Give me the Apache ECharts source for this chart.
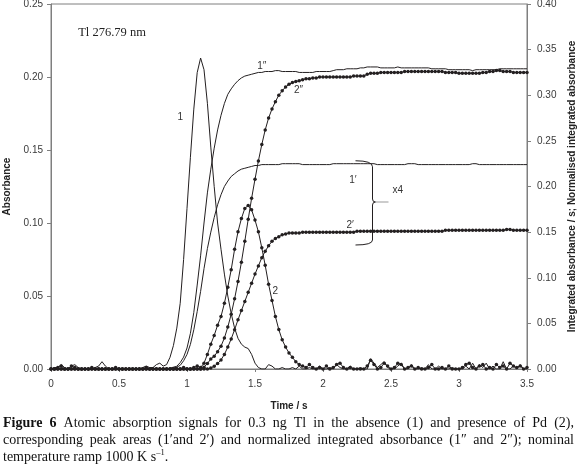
<!DOCTYPE html>
<html><head><meta charset="utf-8">
<script src="https://cdn.jsdelivr.net/npm/echarts@6/dist/echarts.min.js"></script>
<style>html,body{margin:0;padding:0;background:#fff}#c{width:580px;height:476px}</style>
</head><body><div id="c"></div>
<script>
// sample times (s)
const timeS = [
0,0.025,0.05,0.075,0.1,0.125,0.15,0.175,0.2,0.225,
0.25,0.275,0.3,0.325,0.35,0.375,0.4,0.425,0.45,0.475,
0.5,0.525,0.55,0.575,0.6,0.625,0.65,0.675,0.7,0.725,
0.75,0.775,0.8,0.825,0.85,0.875,0.9,0.925,0.95,0.975,
1,1.025,1.05,1.075,1.1,1.125,1.15,1.175,1.2,1.225,
1.25,1.275,1.3,1.325,1.35,1.375,1.4,1.425,1.45,1.475,
1.5,1.525,1.55,1.575,1.6,1.625,1.65,1.675,1.7,1.725,
1.75,1.775,1.8,1.825,1.85,1.875,1.9,1.925,1.95,1.975,
2,2.025,2.05,2.075,2.1,2.125,2.15,2.175,2.2,2.225,
2.25,2.275,2.3,2.325,2.35,2.375,2.4,2.425,2.45,2.475,
2.5,2.525,2.55,2.575,2.6,2.625,2.65,2.675,2.7,2.725,
2.75,2.775,2.8,2.825,2.85,2.875,2.9,2.925,2.95,2.975,
3,3.025,3.05,3.075,3.1,3.125,3.15,3.175,3.2,3.225,
3.25,3.275,3.3,3.325,3.35,3.375,3.4,3.425,3.45,3.475,
3.5];

// (1) absorbance, no Pd  (left axis)
const absNoPd = [
0.000,0.001,0.001,0.003,0.001,0.000,0.002,0.003,0.001,0.000,
0.000,0.000,0.000,0.001,0.002,0.005,0.002,0.000,0.000,0.000,
0.000,0.000,0.000,0.000,0.000,0.000,0.000,0.001,0.002,0.001,
0.001,0.003,0.004,0.002,0.003,0.008,0.016,0.028,0.045,0.075,
0.110,0.145,0.178,0.203,0.213,0.205,0.182,0.152,0.125,0.100,
0.082,0.065,0.050,0.038,0.028,0.021,0.017,0.015,0.014,0.010,
0.004,0.001,0.000,0.000,0.003,0.002,0.000,0.000,0.001,0.000,
0.000,0.001,0.000,0.002,0.000,0.000,0.001,0.000,0.000,0.002,
0.000,0.000,0.001,0.000,0.003,0.001,0.000,0.000,0.002,0.000,
0.000,0.001,0.000,0.000,0.007,0.004,0.001,0.003,0.005,0.001,
0.000,0.000,0.002,0.004,0.000,0.000,0.003,0.000,0.000,0.001,
0.000,0.003,0.000,0.000,0.002,0.000,0.000,0.000,0.001,0.000,
0.000,0.000,0.002,0.000,0.004,0.000,0.003,0.001,0.004,0.000,
0.002,0.000,0.000,0.005,0.000,0.000,0.002,0.000,0.003,0.000,
0.000];

// (2) absorbance, with Pd (left axis)
const absPd = [
0.000,0.000,0.001,0.002,0.000,0.000,0.002,0.001,0.000,0.000,
0.000,0.000,0.001,0.000,0.000,0.000,0.000,0.000,0.000,0.001,
0.000,0.000,0.000,0.000,0.000,0.000,0.000,0.000,0.001,0.000,
0.000,0.000,0.000,0.000,0.000,0.000,0.000,0.000,0.000,0.001,
0.000,0.000,0.001,0.002,0.001,0.004,0.010,0.017,0.023,0.030,
0.036,0.045,0.056,0.068,0.082,0.094,0.103,0.110,0.112,0.109,
0.102,0.094,0.083,0.071,0.058,0.047,0.036,0.027,0.020,0.015,
0.011,0.008,0.005,0.003,0.002,0.001,0.003,0.001,0.000,0.001,
0.000,0.002,0.000,0.001,0.003,0.004,0.001,0.000,0.001,0.000,
0.000,0.000,0.000,0.002,0.006,0.003,0.000,0.001,0.004,0.002,
0.000,0.001,0.004,0.003,0.000,0.001,0.002,0.000,0.001,0.000,
0.000,0.001,0.003,0.000,0.000,0.001,0.000,0.002,0.000,0.000,
0.000,0.001,0.003,0.004,0.001,0.000,0.002,0.003,0.000,0.001,
0.000,0.003,0.001,0.002,0.000,0.004,0.002,0.001,0.002,0.000,
0.001];

// (1') integrated absorbance x4, no Pd (right axis)
const areaNoPd = [
0,0,0,0,0,0,0,0,0,0,
0,0,0,0,0,0,0,0,0,0,
0,0,0,0,0,0,0,0,0,0,
0,0,0,0,0,0,0.001,0.002,0.004,0.009,
0.016,0.027,0.043,0.063,0.085,0.110,0.132,0.150,0.166,0.180,
0.191,0.200,0.206,0.211,0.214,0.217,0.219,0.220,0.221,0.222,
0.223,0.223,0.224,0.224,0.224,0.224,0.224,0.224,0.225,0.225,
0.225,0.225,0.225,0.225,0.224,0.224,0.224,0.224,0.224,0.224,
0.224,0.224,0.224,0.225,0.225,0.225,0.225,0.225,0.225,0.225,
0.225,0.225,0.225,0.225,0.225,0.225,0.224,0.224,0.224,0.224,
0.224,0.224,0.224,0.224,0.224,0.225,0.225,0.225,0.224,0.224,
0.224,0.224,0.224,0.224,0.224,0.224,0.224,0.224,0.224,0.224,
0.224,0.224,0.224,0.224,0.225,0.225,0.224,0.224,0.224,0.224,
0.224,0.224,0.224,0.224,0.224,0.224,0.224,0.224,0.224,0.224,
0.224];

// (2') integrated absorbance x4, with Pd (right axis)
const areaPd = [
0,0,0,0,0,0,0,0,0,0,
0,0,0,0,0,0,0,0,0,0,
0,0,0,0,0,0,0,0,0,0,
0,0,0,0,0,0,0,0,0,0,
0.000,0.000,0.000,0.000,0.000,0.000,0.000,0.001,0.003,0.006,
0.010,0.016,0.024,0.033,0.043,0.054,0.064,0.074,0.084,0.094,
0.104,0.113,0.122,0.129,0.135,0.140,0.143,0.145,0.147,0.148,
0.149,0.149,0.149,0.149,0.150,0.150,0.150,0.150,0.150,0.150,
0.150,0.150,0.150,0.150,0.150,0.150,0.150,0.150,0.150,0.150,
0.151,0.151,0.151,0.151,0.151,0.151,0.151,0.151,0.151,0.151,
0.151,0.151,0.151,0.151,0.151,0.151,0.151,0.151,0.151,0.151,
0.151,0.151,0.151,0.151,0.151,0.151,0.152,0.152,0.152,0.152,
0.152,0.152,0.152,0.152,0.152,0.152,0.152,0.152,0.152,0.152,
0.152,0.152,0.152,0.152,0.153,0.153,0.152,0.152,0.152,0.152,
0.152];

// (1") normalised integrated absorbance, no Pd (right axis)
const normNoPd = [
0,0,0,0,0,0,0,0,0,0,
0,0,0,0,0,0,0,0,0,0,
0,0,0,0,0,0,0,0,0,0,
0,0,0,0,0,0.001,0.002,0.003,0.007,0.013,
0.023,0.039,0.062,0.092,0.124,0.160,0.193,0.219,0.242,0.262,
0.278,0.291,0.301,0.307,0.312,0.316,0.319,0.321,0.322,0.323,
0.324,0.325,0.325,0.326,0.326,0.326,0.327,0.327,0.326,0.326,
0.326,0.326,0.326,0.325,0.325,0.325,0.325,0.325,0.326,0.326,
0.326,0.326,0.326,0.327,0.328,0.328,0.328,0.329,0.329,0.329,
0.329,0.330,0.330,0.331,0.331,0.331,0.331,0.330,0.330,0.330,
0.330,0.330,0.331,0.330,0.330,0.330,0.330,0.330,0.330,0.330,
0.330,0.330,0.329,0.329,0.329,0.329,0.329,0.328,0.328,0.328,
0.328,0.328,0.328,0.328,0.327,0.328,0.328,0.328,0.328,0.328,
0.328,0.328,0.329,0.329,0.329,0.329,0.329,0.329,0.329,0.329,
0.329];

// (2") normalised integrated absorbance, with Pd (right axis)
const normPd = [
0,0,0,0,0,0,0,0,0,0,
0,0,0,0,0,0,0,0,0,0,
0,0,0,0,0,0,0,0,0,0,
0,0,0,0,0,0,0,0,0,0,
0.000,0.000,0.000,0.000,0.000,0.002,0.006,0.011,0.014,0.019,
0.025,0.034,0.046,0.060,0.077,0.096,0.117,0.140,0.164,0.187,
0.208,0.228,0.246,0.262,0.275,0.285,0.293,0.300,0.305,0.309,
0.312,0.314,0.315,0.316,0.317,0.318,0.318,0.319,0.319,0.320,
0.320,0.320,0.320,0.320,0.320,0.320,0.320,0.320,0.320,0.321,
0.321,0.321,0.321,0.323,0.324,0.324,0.324,0.325,0.325,0.325,
0.325,0.325,0.325,0.325,0.326,0.326,0.326,0.326,0.326,0.326,
0.326,0.326,0.326,0.326,0.326,0.326,0.325,0.325,0.325,0.325,
0.324,0.324,0.324,0.324,0.324,0.324,0.324,0.325,0.325,0.326,
0.326,0.327,0.327,0.326,0.326,0.326,0.325,0.325,0.325,0.325,
0.325];

// curve annotations: [text, time, value, yAxisIndex]
const curveLabels = [
  ['1', 0.95, 0.1726, 0],
  ['1\u2033', 1.55, 0.332, 1],
  ['2\u2033', 1.82, 0.306, 1],
  ['2', 1.65, 0.053, 0],
  ['1\u2032', 2.22, 0.207, 1],
  ['2\u2032', 2.20, 0.158, 1],
  ['x4', 2.55, 0.196, 1]
];
const braceAt = {time: 2.36, top: 0.226, mid: 0.183, bottom: 0.137};

const captionLine1 = ['Figure', '6', 'Atomic', 'absorption', 'signals', 'for', '0.3', 'ng', 'Tl', 'in', 'the', 'absence', '(1)', 'and', 'presence', 'of', 'Pd', '(2),'];
const captionLine2 = ['corresponding', 'peak', 'areas', '(1\u2032and', '2\u2032)', 'and', 'normalized', 'integrated', 'absorbance', '(1\u2033', 'and', '2\u2033);', 'nominal'];
const captionLine3 = 'temperature ramp 1000 K s';

const INK = '#231f20';
const AXIS = '#7f7f7f';
const LBL = '#3a3a3a';

function pairs(vals) { return timeS.map((t, i) => [t, vals[i]]); }
function thin(vals, yi) {
  return {type: 'line', yAxisIndex: yi, data: pairs(vals), symbol: 'none',
    lineStyle: {color: INK, width: 1}, silent: true, z: 3};
}
function dotted(vals, yi) {
  return {type: 'line', yAxisIndex: yi, data: pairs(vals), symbol: 'circle', symbolSize: 3.5,
    showSymbol: true, itemStyle: {color: INK, borderWidth: 0},
    lineStyle: {color: INK, width: 1}, silent: true, z: 4};
}

const chart = echarts.init(document.getElementById('c'), null, {renderer: 'canvas'});
const fmt2 = v => v.toFixed(2);
const option = {
  animation: false,
  backgroundColor: '#fff',
  grid: {left: 51, right: 53, top: 4, bottom: 107, containLabel: false, outerBoundsMode: 'none',
    show: true, borderColor: AXIS, borderWidth: 1, backgroundColor: 'transparent'},
  xAxis: {
    type: 'value', min: 0, max: 3.5, interval: 0.5,
    name: 'Time / s', nameLocation: 'middle', nameGap: 32,
    nameTextStyle: {fontFamily: 'Liberation Sans', fontWeight: 'bold', fontSize: 10, color: '#222'},
    axisLine: {lineStyle: {color: AXIS, width: 1}},
    axisTick: {show: true, length: 3, lineStyle: {color: AXIS}},
    axisLabel: {fontFamily: 'Liberation Sans', fontSize: 10, color: LBL, margin: 10},
    splitLine: {show: false}
  },
  yAxis: [{
    type: 'value', min: 0, max: 0.25, interval: 0.05, position: 'left',
    name: 'Absorbance', nameLocation: 'middle', nameGap: 34,
    nameTextStyle: {fontFamily: 'Liberation Sans', fontWeight: 'bold', fontSize: 10, color: '#222'},
    axisLine: {show: true, lineStyle: {color: AXIS, width: 1}},
    axisTick: {show: true, length: 4, lineStyle: {color: AXIS}},
    axisLabel: {fontFamily: 'Liberation Sans', fontSize: 10, color: LBL, margin: 8, formatter: fmt2},
    splitLine: {show: false}
  }, {
    type: 'value', min: 0, max: 0.4, interval: 0.05, position: 'right',
    name: 'Integrated absorbance / s; Normalised integrated absorbance', nameLocation: 'middle', nameGap: 40,
    nameTextStyle: {fontFamily: 'Liberation Sans', fontWeight: 'bold', fontSize: 10, color: '#222'},
    axisLine: {show: true, lineStyle: {color: AXIS, width: 1}},
    axisTick: {show: true, length: 4, lineStyle: {color: AXIS}},
    axisLabel: {fontFamily: 'Liberation Sans', fontSize: 10, color: LBL, margin: 10, formatter: fmt2},
    splitLine: {show: false}
  }],
  series: [
    thin(absNoPd, 0),
    thin(areaNoPd, 1),
    thin(normNoPd, 1),
    dotted(absPd, 0),
    dotted(areaPd, 1),
    dotted(normPd, 1)
  ]
};
chart.setOption(option);

function px(t, v, yi) { return chart.convertToPixel({xAxisIndex: 0, yAxisIndex: yi}, [t, v]); }
const g = [];
curveLabels.forEach(([text, t, v, yi]) => {
  const p = px(t, v, yi);
  g.push({type: 'text', x: p[0], y: p[1], z: 10, style: {text, fontFamily: 'Liberation Sans', fontSize: 10, fill: '#333', align: 'center', verticalAlign: 'middle'}});
});
{
  const p0 = px(0.2, 0.23, 0);
  g.push({type: 'text', x: p0[0], y: p0[1], z: 10, style: {text: 'Tl 276.79 nm', fontFamily: 'Liberation Serif', fontSize: 12.5, fill: '#222', align: 'left', verticalAlign: 'middle'}});
}
// brace
{
  const pt = px(braceAt.time, braceAt.top, 1), pm = px(braceAt.time, braceAt.mid, 1), pb = px(braceAt.time, braceAt.bottom, 1);
  const xb = Math.round(pt[0]) + 0.5, yt = pt[1], ym = pm[1], yb = pb[1];
  const st = {stroke: INK, lineWidth: 1, fill: null};
  g.push({type: 'bezierCurve', z: 10, shape: {x1: xb - 17, y1: yt - 2, cpx1: xb, cpy1: yt - 2, x2: xb, y2: yt + 4}, style: st});
  g.push({type: 'line', z: 10, shape: {x1: xb, y1: yt + 4, x2: xb, y2: ym - 3}, style: st});
  g.push({type: 'bezierCurve', z: 10, shape: {x1: xb, y1: ym - 3, cpx1: xb, cpy1: ym, x2: xb + 3, y2: ym}, style: st});
  g.push({type: 'bezierCurve', z: 10, shape: {x1: xb + 3, y1: ym, cpx1: xb, cpy1: ym, x2: xb, y2: ym + 3}, style: st});
  g.push({type: 'line', z: 10, shape: {x1: xb + 3, y1: ym, x2: xb + 16, y2: ym}, style: {stroke: '#999', lineWidth: 1}});
  g.push({type: 'line', z: 10, shape: {x1: xb, y1: ym + 3, x2: xb, y2: yb - 4}, style: st});
  g.push({type: 'bezierCurve', z: 10, shape: {x1: xb, y1: yb - 4, cpx1: xb, cpy1: yb + 1, x2: xb - 17, y2: yb + 1}, style: st});
}
// caption
const cv = document.createElement('canvas').getContext('2d');
const CAP_FAMILY = 'Liberation Serif', CAP_SIZE = 14;
function wid(text, bold, size) { cv.font = (bold ? 'bold ' : '') + (size || CAP_SIZE) + 'px "' + CAP_FAMILY + '"'; return cv.measureText(text).width; }
function justify(words, boldCount, y, x0, x1) {
  const ws = words.map((w, i) => wid(w, i < boldCount));
  const total = ws.reduce((a, b) => a + b, 0);
  const gap = (x1 - x0 - total) / (words.length - 1);
  let x = x0;
  words.forEach((w, i) => {
    g.push({type: 'text', x: x, y: y, style: {text: w, fontFamily: CAP_FAMILY, fontSize: CAP_SIZE, fontWeight: i < boldCount ? 'bold' : 'normal', fill: '#111', align: 'left', verticalAlign: 'middle'}});
    x += ws[i] + gap;
  });
}
justify(captionLine1, 2, 423, 3, 574);
justify(captionLine2, 0, 440, 3, 574);
{
  const x0 = 3, y = 457;
  const w1 = wid(captionLine3, false);
  g.push({type: 'text', x: x0, y: y, style: {text: captionLine3, fontFamily: CAP_FAMILY, fontSize: CAP_SIZE, fill: '#111', align: 'left', verticalAlign: 'middle'}});
  g.push({type: 'text', x: x0 + w1, y: y - 4, style: {text: '\u20131', fontFamily: CAP_FAMILY, fontSize: 8.5, fill: '#111', align: 'left', verticalAlign: 'middle'}});
  const w2 = wid('\u20131', false, 8.5);
  g.push({type: 'text', x: x0 + w1 + w2, y: y, style: {text: '.', fontFamily: CAP_FAMILY, fontSize: CAP_SIZE, fill: '#111', align: 'left', verticalAlign: 'middle'}});
}
chart.setOption({graphic: g});
</script>
</body></html>
